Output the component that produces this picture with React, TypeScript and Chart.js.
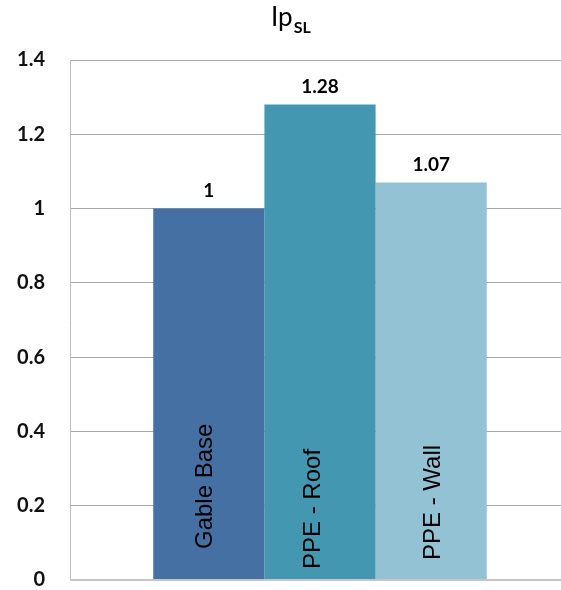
import { useEffect, useRef } from "react";
import { Chart, registerables } from "chart.js";

Chart.register(...registerables);

// Single category with three series drawn side by side
const categories = [""];
const seriesNames = ["Gable Base", "PPE - Roof", "PPE - Wall"];
const seriesValues = [1, 1.28, 1.07];
const seriesColors = ["#4470A4", "#4497B0", "#93C2D5"];
const yTicks = [0, 0.2, 0.4, 0.6, 0.8, 1, 1.2, 1.4];

const titleMain = "Ip";
const titleSub = "SL";

// Rotated series names sit inside each bar: [baseline shift, distance from axis]
const innerLabelPlacement = [
  [3, 31],
  [0, 11],
  [9, 20],
];

const titlePlugin = {
  id: "subTitle",
  afterDraw(chart: any) {
    const ctx = chart.ctx;
    ctx.save();
    ctx.fillStyle = "#000";
    ctx.textBaseline = "alphabetic";
    ctx.textAlign = "left";
    ctx.font = "26px Lato";
    const x0 = 271;
    ctx.fillText(titleMain, x0, 26);
    const w = ctx.measureText(titleMain).width;
    ctx.font = "bold 16px Lato";
    ctx.fillText(titleSub, x0 + w + 1, 33);
    ctx.restore();
  },
};

const barLabelPlugin = {
  id: "barLabels",
  afterDatasetsDraw(chart: any) {
    const ctx = chart.ctx;
    const { bottom, left, right } = chart.chartArea;
    ctx.save();
    // horizontal category axis line
    ctx.strokeStyle = "#C6C6C6";
    ctx.lineWidth = 2;
    ctx.beginPath();
    ctx.moveTo(left, bottom);
    ctx.lineTo(right, bottom);
    ctx.stroke();

    chart.data.datasets.forEach((ds: any, i: number) => {
      const meta = chart.getDatasetMeta(i);
      meta.data.forEach((bar: any, j: number) => {
        // value above the bar
        ctx.fillStyle = "#000";
        ctx.font = "bold 19px Lato";
        ctx.textAlign = "center";
        ctx.textBaseline = "alphabetic";
        ctx.fillText(String(ds.data[j]), bar.x, bar.y - 12);

        // series name rotated inside the bar
        const [dx, dy] = innerLabelPlacement[i];
        ctx.save();
        ctx.translate(bar.x + dx, bottom - dy);
        ctx.rotate(-Math.PI / 2);
        ctx.font = "24px 'Liberation Sans'";
        ctx.textAlign = "left";
        ctx.textBaseline = "alphabetic";
        ctx.fillStyle = "#000";
        ctx.fillText(ds.label, 0, 0);
        ctx.restore();
      });
    });
    ctx.restore();
  },
};

function BarChart() {
  const ref = useRef<HTMLCanvasElement | null>(null);

  useEffect(() => {
    if (!ref.current) return;
    const chart = new Chart(ref.current, {
      type: "bar",
      data: {
        labels: categories,
        datasets: seriesNames.map((name, i) => ({
          label: name,
          data: [seriesValues[i]],
          backgroundColor: seriesColors[i],
          borderWidth: 0,
          barPercentage: 1,
          categoryPercentage: 0.667,
        })),
      },
      options: {
        animation: false,
        responsive: false,
        devicePixelRatio: 1,
        layout: { padding: { top: 60, left: 0, right: 2, bottom: 10 } },
        plugins: {
          legend: { display: false },
          title: { display: false },
          tooltip: { enabled: false },
        },
        scales: {
          x: {
            display: false,
          },
          y: {
            min: 0,
            max: 1.4,
            afterBuildTicks: (s: any) => {
              s.ticks = yTicks.map((v) => ({ value: v }));
            },
            ticks: {
              padding: 25,
              color: "#111",
              font: { family: "Lato", size: 20, weight: "bold" },
              callback: (v: any) => {
                const t = yTicks.reduce((a, b) =>
                  Math.abs(b - v) < Math.abs(a - v) ? b : a
                );
                return String(t);
              },
            },
            grid: {
              color: (c: any) => (c.tick && c.tick.value === 0 ? "rgba(0,0,0,0)" : "#A8A8A8"),
              lineWidth: 1,
              drawTicks: false,
            },
            border: { display: true, color: "#BDBDBD", width: 1 },
            afterFit: (s: any) => {
              s.width = 70;
              s.paddingTop = 0;
              s.paddingBottom = 0;
            },
          },
        },
      },
      plugins: [titlePlugin, barLabelPlugin],
    });
    return () => chart.destroy();
  }, []);

  return <canvas ref={ref} width={572} height={590} />;
}

export default function App() {
  return (
    <div
      style={{
        position: "absolute",
        left: 0,
        top: 0,
        width: 561,
        height: 590,
        overflow: "hidden",
        background: "#fff",
      }}
    >
      <BarChart />
    </div>
  );
}
